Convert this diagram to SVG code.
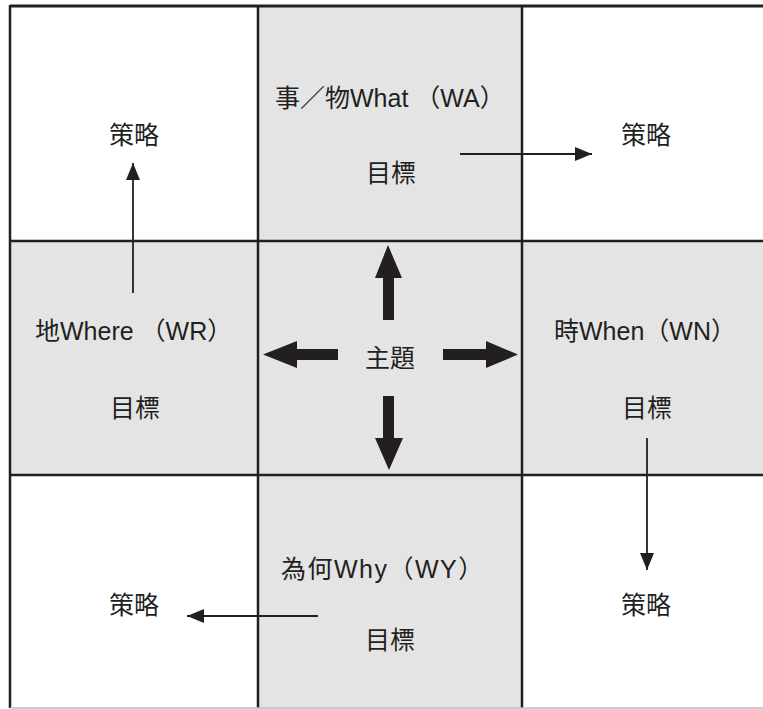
<svg xmlns="http://www.w3.org/2000/svg" width="763" height="709" viewBox="0 0 763 709">
<defs>
<style>
.bg{fill:#ffffff}
.gray{fill:#e4e4e4}
.grid{stroke:#231f20;stroke-width:2.5;fill:none}
.t{font-family:"Liberation Sans","Noto Sans CJK TC",sans-serif;font-size:25px;fill:#231f20}
.c{text-anchor:middle}
.thin{stroke:#231f20;stroke-width:1.8;fill:none;marker-end:url(#ah)}
.bold{fill:#231f20}
</style>
<marker id="ah" markerUnits="userSpaceOnUse" markerWidth="17" markerHeight="14" refX="17" refY="7" orient="auto">
<path d="M0,0 L17,7 L0,14 z" fill="#231f20"/>
</marker>
</defs>
<rect class="bg" x="0" y="0" width="763" height="709"/>
<g id="cells">
<rect class="gray" x="258" y="6" width="264" height="702"/>
<rect class="gray" x="10" y="241" width="753" height="234"/>
</g>
<g id="grid">
<line class="grid" x1="10" y1="6" x2="763" y2="6" style="stroke-width:3"/>
<line class="grid" x1="10" y1="5" x2="10" y2="708"/>
<line class="grid" x1="258" y1="6" x2="258" y2="708"/>
<line class="grid" x1="522" y1="6" x2="522" y2="708"/>
<line class="grid" x1="10" y1="241" x2="763" y2="241"/>
<line class="grid" x1="10" y1="475" x2="763" y2="475"/>
<line x1="10" y1="708" x2="763" y2="708" stroke="#bdbdbd" stroke-width="1.5"/>
</g>
<g id="node-tl"><text class="t c" x="134" y="144">策略</text></g>
<g id="node-tc"><text class="t" x="275" y="107" xml:space="preserve">事／物What （WA）</text><text class="t c" x="391" y="182">目標</text></g>
<g id="node-tr"><text class="t c" x="646" y="144">策略</text></g>
<g id="node-ml"><text class="t" x="35" y="340" xml:space="preserve">地Where （WR）</text><text class="t c" x="135" y="417">目標</text></g>
<g id="node-mc"><text class="t c" x="390" y="367">主題</text></g>
<g id="node-mr"><text class="t" x="554" y="340">時When（WN）</text><text class="t c" x="647" y="417">目標</text></g>
<g id="node-bl"><text class="t c" x="134" y="614">策略</text></g>
<g id="node-bc"><text class="t" x="281" y="578" style="letter-spacing:1.5px">為何Why（WY）</text><text class="t c" x="390" y="649">目標</text></g>
<g id="node-br"><text class="t c" x="646" y="614">策略</text></g>
<g id="connectors">
<polygon class="bold" points="388,245 402,278 394,278 394,320 383,320 383,278 375,278"/>
<polygon class="bold" points="383,396 394,396 394,438 403,438 389,470 375,438 383,438"/>
<polygon class="bold" points="263,354.5 297,341 297,349 338,349 338,360 297,360 297,368"/>
<polygon class="bold" points="443,349 486,349 486,341 518,354.5 486,368 486,360 443,360"/>
<line class="thin" x1="133" y1="293" x2="133" y2="163"/>
<line class="thin" x1="460" y1="154" x2="592" y2="154"/>
<line class="thin" x1="647" y1="438" x2="647" y2="570"/>
<line class="thin" x1="318" y1="616" x2="187" y2="616"/>
</g>
</svg>
